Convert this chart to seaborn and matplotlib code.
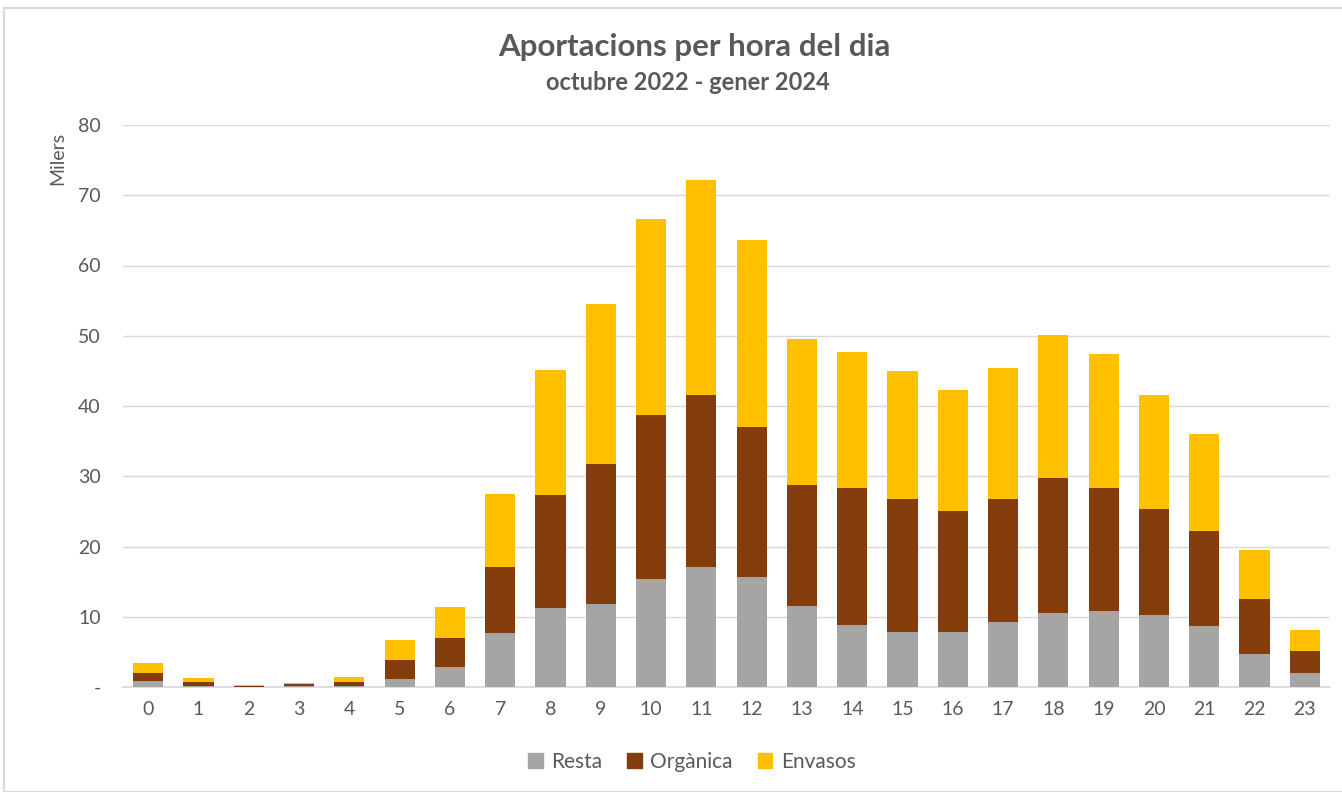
import seaborn as sns
import matplotlib.pyplot as plt
import matplotlib.patches as mpatches
import numpy as np
import pandas as pd


# Data (thousands of contributions per hour of day)
hours = [str(h) for h in range(24)]
resta = [0.85, 0.2, 0.05, 0.1, 0.2, 1.2, 2.9, 7.7, 11.2, 11.8, 15.4, 17.1,
         15.7, 11.5, 8.8, 7.8, 7.8, 9.2, 10.5, 10.8, 10.3, 8.7, 4.7, 2.0]
organica = [1.15, 0.5, 0.1, 0.3, 0.5, 2.6, 4.1, 9.4, 16.1, 19.9, 23.3, 24.5,
            21.3, 17.3, 19.5, 19.0, 17.3, 17.6, 19.2, 17.5, 15.0, 13.5, 7.8, 3.1]
envasos = [1.4, 0.6, 0.2, 0.15, 0.7, 2.9, 4.4, 10.4, 17.8, 22.8, 27.9, 30.6,
           26.6, 20.7, 19.4, 18.2, 17.2, 18.6, 20.4, 19.1, 16.3, 13.8, 7.0, 3.0]
series_names = ['Resta', 'Orgànica', 'Envasos']
series_colors = ['#A5A5A5', '#843C0C', '#FFC000']

df = pd.DataFrame({'hour': hours, 'Resta': resta, 'Orgànica': organica, 'Envasos': envasos})
df['cum_resta'] = df['Resta']
df['cum_org'] = df['Resta'] + df['Orgànica']
df['cum_env'] = df['cum_org'] + df['Envasos']

sns.set_theme(style='white')
plt.rcParams['font.family'] = ['Lato', 'DejaVu Sans']

fig = plt.figure(figsize=(13.42, 7.92), dpi=100)
ax = fig.add_axes([123 / 1342, 1 - 687 / 792, (1330 - 123) / 1342, (687 - 125) / 792])

# stacked bars: draw totals first, then overlay lower segments
for col, color in zip(['cum_env', 'cum_org', 'cum_resta'], series_colors[::-1]):
    sns.barplot(data=df, x='hour', y=col, order=hours, color=color,
                width=0.6, saturation=1, linewidth=0, ax=ax, zorder=3)

ax.set_xlim(-0.5, 23.5)
ax.set_ylim(0, 80)
ax.set_yticks(range(0, 81, 10))
ax.set_yticklabels(['-'] + [str(v) for v in range(10, 81, 10)])
ax.grid(axis='y', color='#D9D9D9', linewidth=1, zorder=0)
ax.set_axisbelow(True)
for s in ['top', 'right', 'left']:
    ax.spines[s].set_visible(False)
ax.spines['bottom'].set_color('#D9D9D9')
ax.tick_params(axis='both', length=0, labelsize=14, colors='#595959')
ax.tick_params(axis='x', pad=10)
ax.tick_params(axis='y', pad=16)
ax.set_xlabel('')
ax.set_ylabel('')

fig.text(58 / 1342, 1 - 158 / 792, 'Milers', rotation=90, ha='center', va='center',
         fontsize=14, color='#595959')

fig.text(694 / 1342, 1 - 47 / 792, 'Aportacions per hora del dia', ha='center', va='center',
         fontsize=22.5, fontweight='bold', color='#595959')
fig.text(688 / 1342, 1 - 82 / 792, 'octubre 2022 - gener 2024', ha='center', va='center',
         fontsize=17, fontweight='bold', color='#595959')

handles = [mpatches.Patch(color=c, label=n) for n, c in zip(series_names, series_colors)]
fig.legend(handles=handles, loc='center', bbox_to_anchor=(692 / 1342, 1 - 762 / 792),
           ncol=3, frameon=False, fontsize=15, handlelength=0.7, handleheight=0.7,
           handletextpad=0.4, columnspacing=1.2, labelcolor='#595959')

# outer chart frame
fig.patches.append(mpatches.Rectangle((4 / 1342, 0), 1.2, 1 - 8 / 792, transform=fig.transFigure,
                                      fill=False, edgecolor='#D9D9D9', linewidth=1.5))

fig.savefig('out.png', dpi=100)
